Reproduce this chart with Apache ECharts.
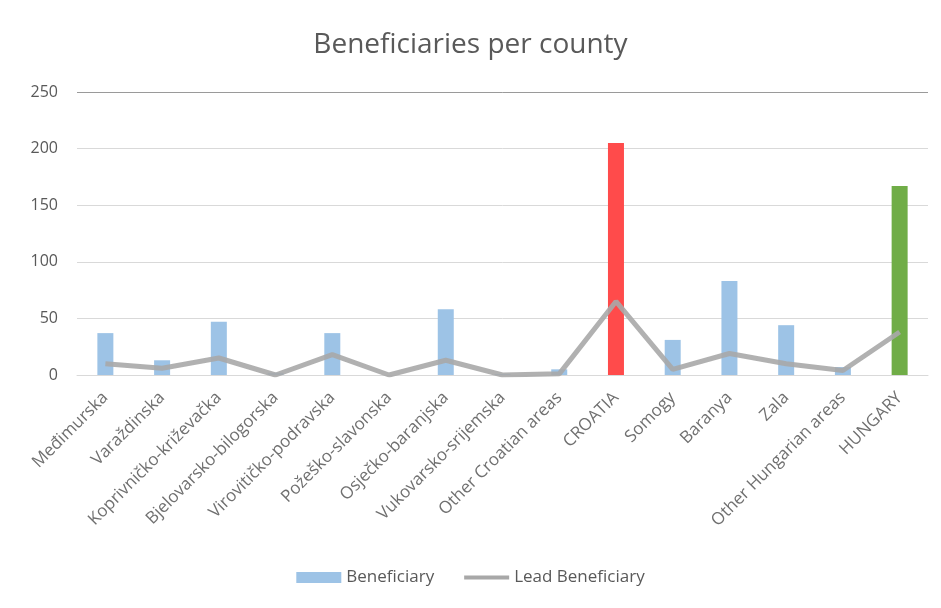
<!DOCTYPE html>
<html><head><meta charset="utf-8">
<script src="https://cdn.jsdelivr.net/npm/echarts@6/dist/echarts.min.js"></script>
<style>html,body{margin:0;padding:0;background:#fff}#c{width:941px;height:608px}</style>
</head><body><div id="c"></div>
<script>
const categories = ["Međimurska","Varaždinska","Koprivničko-križevačka","Bjelovarsko-bilogorska","Virovitičko-podravska","Požeško-slavonska","Osječko-baranjska","Vukovarsko-srijemska","Other Croatian areas","CROATIA","Somogy","Baranya","Zala","Other Hungarian areas","HUNGARY"];
const beneficiary = [37,13,47,2,37,0,58,1,5,205,31,83,44,7,167];
const leadBeneficiary = [10,6,15,0,18,0,13,0,1,65,5,19,10,4,38];
const yTicks = [0,50,100,150,200,250];

const font = "'Open Sans', sans-serif";
const highlight = {CROATIA:'#ff4b4b', HUNGARY:'#70ad47'};
const chart = echarts.init(document.getElementById('c'));
chart.setOption({
  animation:false,
  backgroundColor:'#fff',
  title:{text:'Beneficiaries per county',left:'center',top:26,
    textStyle:{fontFamily:font,fontSize:28,fontWeight:'normal',color:'#595959'}},
  grid:{left:77,right:13,top:92,bottom:233,containLabel:false},
  legend:{bottom:17,left:'center',itemWidth:45,itemHeight:11,itemGap:30,
    textStyle:{fontFamily:font,fontSize:17,color:'#595959'},
    data:[{name:'Beneficiary',icon:'rect'},{name:'Lead Beneficiary',icon:'path://M0,0 L45,0 L45,4 L0,4 Z'}]},
  xAxis:{type:'category',data:categories,
    axisLine:{lineStyle:{color:'#d9d9d9'}},axisTick:{show:false},
    axisLabel:{rotate:45,interval:0,fontFamily:font,fontSize:17,color:'#707070',margin:20}},
  yAxis:{type:'value',min:yTicks[0],max:yTicks[yTicks.length-1],interval:50,
    axisLine:{show:false},axisTick:{show:false},
    splitLine:{lineStyle:{color:'#d9d9d9',width:1}},
    axisLabel:{fontFamily:font,fontSize:16,color:'#595959',margin:19}},
  series:[
    {name:'Beneficiary',type:'bar',barWidth:16,itemStyle:{color:'#9dc3e6'},
     data:beneficiary.map((v,i)=>highlight[categories[i]]?{value:v,itemStyle:{color:highlight[categories[i]]}}:v),
     markLine:{silent:true,symbol:'none',label:{show:false},lineStyle:{color:'#9a9a9a',type:'solid',width:1},
       data:[{yAxis:yTicks[yTicks.length-1]}]}},
    {name:'Lead Beneficiary',type:'line',symbol:'none',showSymbol:false,
     lineStyle:{color:'#a8a8a8',width:5,opacity:0.9},itemStyle:{color:'#a8a8a8'},
     data:leadBeneficiary}
  ]
});
</script></body></html>
